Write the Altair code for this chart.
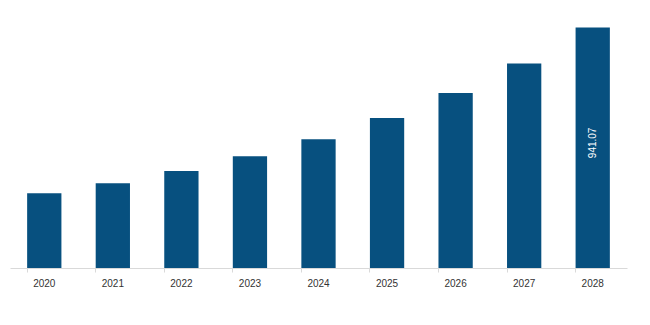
import altair as alt
import pandas as pd

years = ["2020", "2021", "2022", "2023", "2024", "2025", "2026", "2027", "2028"]
values = [292.0, 331.0, 379.0, 437.0, 504.0, 587.0, 684.0, 800.0, 941.07]
labels = ["", "", "", "", "", "", "", "", "941.07"]

df = pd.DataFrame({"year": years, "value": values, "label": labels})

x = alt.X("year:N", sort=years, title=None,
          scale=alt.Scale(paddingInner=0.5, paddingOuter=0.25),
          axis=alt.Axis(labelAngle=0, labelFont="Liberation Sans", labelFontSize=10,
                        labelColor="#333333", labelPadding=6, domainColor="#d9d9d9",
                        tickColor="#d9d9d9", tickSize=4, bandPosition=0, grid=False))
y = alt.Y("value:Q", title=None, scale=alt.Scale(domain=[0, 970], nice=False), axis=None)

bars = alt.Chart(df).mark_bar(color="#07507f").encode(x=x, y=y)

text = alt.Chart(df).mark_text(angle=270, color="white", font="Liberation Sans",
                               fontSize=10, align="center", baseline="middle").encode(
    x=alt.X("year:N", sort=years),
    y=alt.Y("mid:Q", scale=alt.Scale(domain=[0, 970], nice=False)),
    text="label:N",
).transform_calculate(mid="datum.value * 0.52")

chart = (bars + text).properties(
    width=617, height=248,
    padding={"left": 10, "top": 20, "right": 23, "bottom": 20},
    autosize=alt.AutoSizeParams(type="none"),
    background="white",
).configure_view(stroke=None, strokeWidth=0)

chart.save("out.html", embed_options={"renderer": "svg", "actions": False})
